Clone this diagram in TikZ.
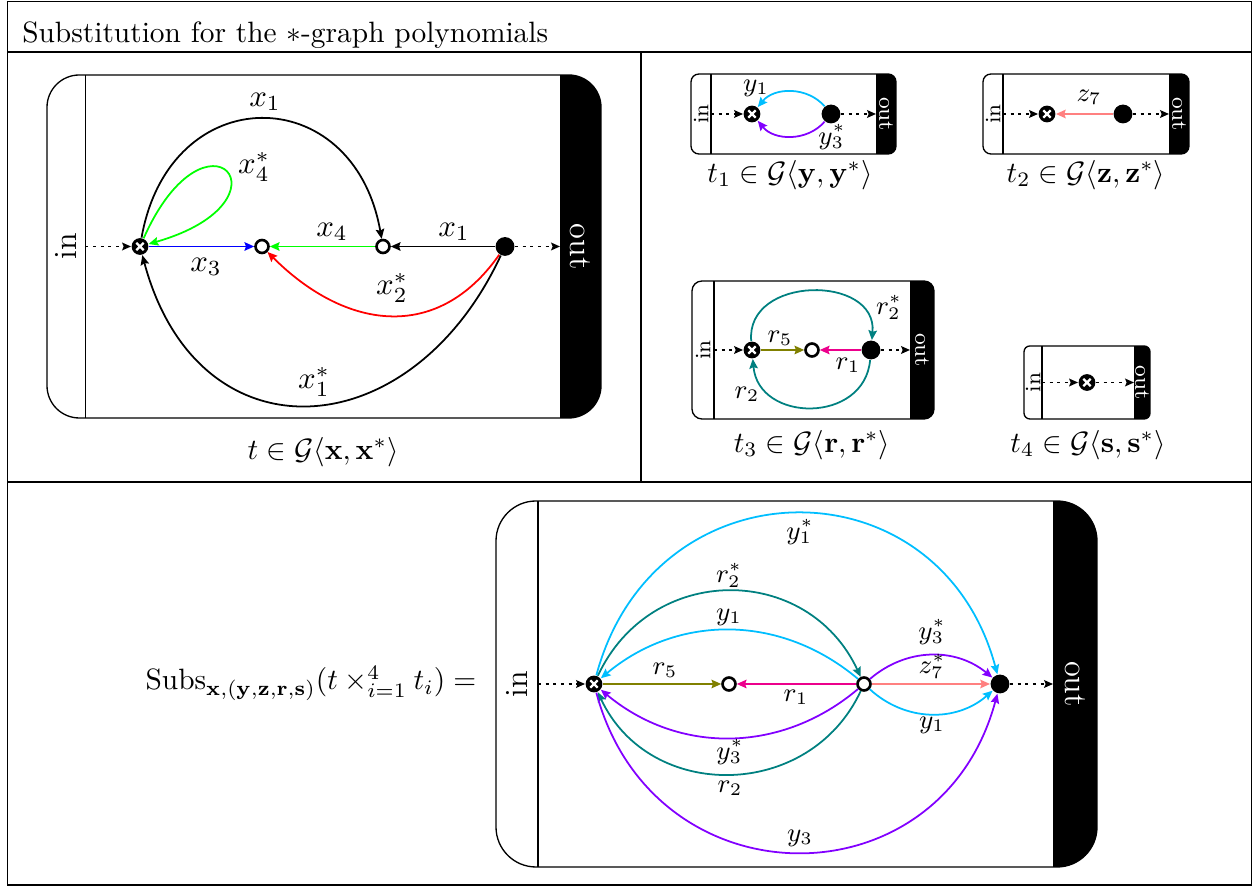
\RequirePackage{fix-cm}
\documentclass[tikz,border=0pt]{standalone}
\usepackage{xcolor,tikz}
\usetikzlibrary{arrows.meta}
\definecolor{himmel}{RGB}{0,190,255}
\definecolor{lila}{RGB}{130,0,255}
\definecolor{petrol}{RGB}{0,128,128}
\definecolor{olivgr}{RGB}{128,128,0}
\definecolor{lachs}{RGB}{255,128,128}
\newcommand{\gross}{\fontsize{11}{13}\selectfont}
\newcommand{\klein}{\fontsize{7.5}{9}\selectfont}
\newcommand{\labgross}{\fontsize{10.5}{12}\selectfont}
\newcommand{\labklein}{\fontsize{9}{11}\selectfont}
\tikzset{rahmen/.style={line width=0.45pt},
  tabrand/.style={line width=0.6pt},
  kreuz/.style={circle,fill=black,inner sep=0,minimum size=5.7pt,
    path picture={\draw[white,line width=0.75pt] (path picture bounding box.center)
      +(-1.25pt,-1.25pt) -- +(1.25pt,1.25pt) +(-1.25pt,1.25pt) -- +(1.25pt,-1.25pt);}},
  hohl/.style={circle,draw=black,fill=white,line width=0.9pt,inner sep=0,minimum size=4.4pt},
  voll/.style={circle,fill=black,inner sep=0,minimum size=6.4pt},
  kante/.style={line width=0.6pt,-{Stealth[length=3.3pt,width=2.9pt,inset=0.5pt]}},
  punktpfeil/.style={line width=0.6pt,dash pattern=on 1pt off 1.6pt,
    -{Stealth[length=3pt,width=2.6pt,inset=0.5pt]}},
  lab/.style={inner sep=0}}
\newcommand{\gkasten}[9]{%
  \begin{scope}
  \clip[rounded corners=#7] (#1,#2) rectangle (#3,#4);
  \fill (#6,#2) rectangle (#3,#4);
  \end{scope}
  \draw[rahmen,rounded corners=#7] (#1,#2) rectangle (#3,#4);
  \draw[rahmen] (#5,#2) -- (#5,#4);
  \node[rotate=90,font=#8,inner sep=0] (#9in) at ({(#1+#5)/2},{(#2+#4)/2}) {in};
  \node[rotate=-90,font=#8,text=white,inner sep=0] (#9out) at ({(#6+#3)/2},{(#2+#4)/2}) {out};
  \coordinate (#9e) at (#5,{(#2+#4)/2});
  \coordinate (#9a) at (#6,{(#2+#4)/2});}

\begin{document}
\begin{tikzpicture}[x=0.34pt,y=0.34pt]
\useasboundingbox (0,0) rectangle (1257,886);
\draw[tabrand] (7.5,1) rectangle (1251.5,884.5);
\draw[tabrand] (7.5,834) -- (1251.5,834) (7.5,404) -- (1251.5,404) (641,834) -- (641,404);
\node[anchor=base west,inner sep=0] (titel) at (21.7,843.3) {Substitution for the $*$-graph polynomials};

\gkasten{47}{468}{601}{811}{85.5}{560}{11pt}{\gross}{A}
\node[kreuz] (a0) at (140,639.5) {};
\node[hohl] (a1) at (262,639.5) {};
\node[hohl] (a2) at (383,639.5) {};
\node[voll] (a3) at (505,639.5) {};
\draw[punktpfeil] (Ae) -- (a0);
\draw[punktpfeil] (a3) -- (Aa);
\draw[kante,blue] (a0) -- (a1);
\draw[kante,green] (a2) -- (a1);
\draw[kante] (a3) -- (a2);
\draw[kante,red] (a3) to[out=-125,in=-45,looseness=1.2] (a1);
\draw[kante] (a0) to[out=80,in=100,looseness=1.72] (a2);
\draw[kante] (a3) to[out=-115,in=-75,looseness=1.53] (a0);
\draw[kante,green] (a0) to[out=66,in=16,min distance=53pt] (a0);
\node[lab,font=\labgross] (lx1o) at (265,784) {$x_1$};
\node[lab,font=\labgross] (lx4s) at (254,719) {$x_4^*$};
\node[lab,font=\labgross] (lx4) at (332,654) {$x_4$};
\node[lab,font=\labgross] (lx1) at (454,654) {$x_1$};
\node[lab,font=\labgross] (lx3) at (206,619) {$x_3$};
\node[lab,font=\labgross] (lx2s) at (392,598) {$x_2^*$};
\node[lab,font=\labgross] (lx1s) at (314,504) {$x_1^*$};
\node (capt) at (323,434) {$t\in\mathcal{G}\langle\mathbf{x},\mathbf{x}^*\rangle$};

\gkasten{691}{732}{896}{812}{711}{876}{2.7pt}{\klein}{C}
\node[kreuz] (c0) at (752,772) {};
\node[voll] (c1) at (831,772) {};
\draw[punktpfeil] (Ce) -- (c0);
\draw[punktpfeil] (c1) -- (Ca);
\draw[kante,himmel] (c1) to[bend right=50] (c0);
\draw[kante,lila] (c1) to[bend left=50] (c0);
\node[lab,font=\labklein] (ly1t) at (756,798) {$y_1$};
\node[lab,font=\labklein] (ly3t) at (832,749) {$y_3^*$};
\node (capt1) at (790,711) {$t_1\in\mathcal{G}\langle\mathbf{y},\mathbf{y}^*\rangle$};

\gkasten{983}{732}{1189}{812}{1003}{1169}{2.7pt}{\klein}{D}
\node[kreuz] (d0) at (1047,772) {};
\node[voll] (d1) at (1123,772) {};
\draw[punktpfeil] (De) -- (d0);
\draw[punktpfeil] (d1) -- (Da);
\draw[kante,lachs] (d1) -- (d0);
\node[lab,font=\labklein] (lz7t) at (1089,789) {$z_7$};
\node (capt2) at (1086,711) {$t_2\in\mathcal{G}\langle\mathbf{z},\mathbf{z}^*\rangle$};

\gkasten{692}{467}{934}{605}{714}{910}{3.4pt}{\klein}{E}
\node[kreuz] (e0) at (752,536) {};
\node[hohl] (e1) at (812,536) {};
\node[voll] (e2) at (871,536) {};
\draw[punktpfeil] (Ee) -- (e0);
\draw[punktpfeil] (e2) -- (Ea);
\draw[kante,olivgr] (e0) -- (e1);
\draw[kante,magenta] (e2) -- (e1);
\draw[kante,petrol] (e0) to[out=95,in=85,looseness=1.4] (e2);
\draw[kante,petrol] (e2) to[out=-95,in=-85,looseness=1.4] (e0);
\node[lab,font=\labklein] (lr5t) at (780,548) {$r_5$};
\node[lab,font=\labklein] (lr1t) at (848,521) {$r_1$};
\node[lab,font=\labklein] (lr2st) at (889,579) {$r_2^*$};
\node[lab,font=\labklein] (lr2t) at (747,492) {$r_2$};
\node (capt3) at (812,441) {$t_3\in\mathcal{G}\langle\mathbf{r},\mathbf{r}^*\rangle$};

\gkasten{1024}{467}{1150}{540}{1042}{1134}{2pt}{\klein}{F}
\node[kreuz] (f0) at (1087,503.5) {};
\draw[punktpfeil] (Fe) -- (f0);
\draw[punktpfeil] (f0) -- (Fa);
\node (capt4) at (1088,441) {$t_4\in\mathcal{G}\langle\mathbf{s},\mathbf{s}^*\rangle$};

\node[anchor=base east,inner sep=0] (subs) at (477,196)
  {$\mathrm{Subs}_{\mathbf{x},(\mathbf{y},\mathbf{z},\mathbf{r},\mathbf{s})}(t\times_{i=1}^{4}t_i)=$};
\gkasten{496}{19}{1097}{385}{538}{1053}{13.6pt}{\gross}{B}
\node[kreuz] (b0) at (594,202) {};
\node[hohl] (b1) at (729,202) {};
\node[hohl] (b2) at (864,202) {};
\node[voll] (b3) at (1000,202) {};
\draw[punktpfeil] (Be) -- (b0);
\draw[punktpfeil] (b3) -- (Ba);
\draw[kante,olivgr] (b0) -- (b1);
\draw[kante,magenta] (b2) -- (b1);
\draw[kante,lachs] (b2) -- (b3);
\draw[kante,lila] (b2) to[bend left=40] (b3);
\draw[kante,himmel] (b2) to[bend right=42] (b3);
\draw[kante,himmel] (b2) to[bend right=40] (b0);
\draw[kante,lila] (b2) to[bend left=40] (b0);
\draw[kante,petrol] (b0) to[out=65,in=115,looseness=1.22] (b2);
\draw[kante,petrol] (b2) to[out=-115,in=-65,looseness=1.18] (b0);
\draw[kante,himmel] (b0) to[out=75,in=105,looseness=1.42] (b3);
\draw[kante,lila] (b0) to[out=-75,in=-105,looseness=1.4] (b3);
\node[lab,font=\labklein] (ly1s) at (800,354) {$y_1^*$};
\node[lab,font=\labklein] (lr2s) at (729,311) {$r_2^*$};
\node[lab,font=\labklein] (ly1o) at (729,269) {$y_1$};
\node[lab,font=\labklein] (ly3so) at (932,254) {$y_3^*$};
\node[lab,font=\labklein] (lz7s) at (932,220) {$z_7^*$};
\node[lab,font=\labklein] (lr5) at (665,216) {$r_5$};
\node[lab,font=\labklein] (lr1) at (796,189) {$r_1$};
\node[lab,font=\labklein] (ly1u) at (932,161) {$y_1$};
\node[lab,font=\labklein] (ly3su) at (730,134) {$y_3^*$};
\node[lab,font=\labklein] (lr2) at (730,98) {$r_2$};
\node[lab,font=\labklein] (ly3) at (800,48) {$y_3$};
\end{tikzpicture}
\end{document}
